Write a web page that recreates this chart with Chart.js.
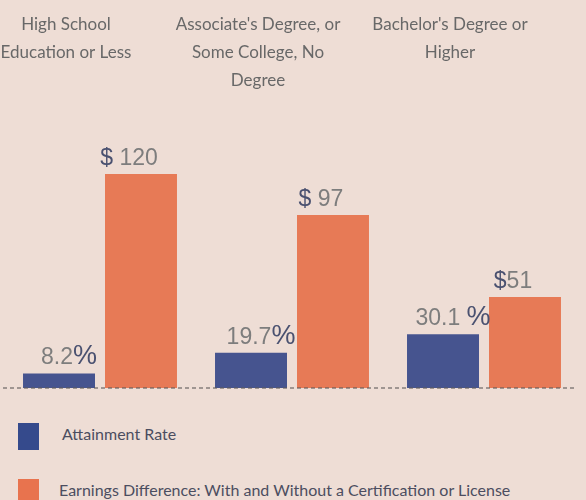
<!DOCTYPE html>
<html>
<head>
<meta charset="utf-8">
<script src="https://cdn.jsdelivr.net/npm/chart.js@4.4.0/dist/chart.umd.min.js"></script>
<style>
    html, body { margin: 0; padding: 0; background: #EEDDD5; }
    #wrap { position: relative; width: 586px; height: 500px; overflow: hidden; }
    #chartBox { position: absolute; left: 0; top: 0; width: 586px; height: 400px; }
    .legend-item { position: absolute; left: 18px; display: flex; align-items: center;
        font-family: Lato, sans-serif; font-size: 16px; color: #4b4d60; white-space: nowrap; }
    .legend-item span.txt { position: relative; top: -3px; }
    .swatch { width: 21px; height: 27px; }
</style>
</head>
<body>
<div id="wrap">
    <div id="chartBox"><canvas id="myChart"></canvas></div>
    <div class="legend-item" style="top:423px"><span class="swatch" style="background:#354A8C; margin-right:23px"></span><span class="txt">Attainment Rate</span></div>
    <div class="legend-item" style="top:479px"><span class="swatch" style="background:#E8734E; margin-right:20px"></span><span class="txt">Earnings Difference: With and Without a Certification or License</span></div>
</div>
<script>
// categories (top labels, wrapped)
const categories = [
    ["High School", "Education or Less"],
    ["Associate's Degree, or", "Some College, No", "Degree"],
    ["Bachelor's Degree or", "Higher"]
];
const attainmentRate = [8.2, 19.7, 30.1];
const earningsDiff = [120, 97, 51];
// value label text as printed in the picture
const attainmentText = ["8.2", "19.7", "30.1 "];
const earningsText = [" 120", " 97", "51"];

const GREY = "#7d7d7d";
const DARK = "#4a5170";

// numbers above the bars, two-tone like the original
const valueLabels = {
    id: "valueLabels",
    afterDatasetsDraw(chart) {
        const ctx = chart.ctx;
        ctx.save();
        ctx.textBaseline = "alphabetic";
        chart.data.datasets.forEach(function (ds, di) {
            chart.getDatasetMeta(di).data.forEach(function (bar, i) {
                var parts, shift;
                if (di === 0) {
                    parts = [[attainmentText[i], GREY, 23], ["%", DARK, 27]];
                    shift = 10;
                } else {
                    parts = [["$", DARK, 23], [earningsText[i], GREY, 23]];
                    shift = -12;
                }
                var total = 0;
                parts.forEach(function (p) {
                    ctx.font = p[2] + "px 'Liberation Sans', Arial, sans-serif";
                    p.push(ctx.measureText(p[0]).width);
                    total += p[3];
                });
                var x = bar.x + shift - total / 2;
                var y = bar.y - 9;
                parts.forEach(function (p) {
                    ctx.font = p[2] + "px 'Liberation Sans', Arial, sans-serif";
                    ctx.fillStyle = p[1];
                    ctx.textAlign = "left";
                    ctx.fillText(p[0], x, y);
                    x += p[3];
                });
            });
        });
        ctx.restore();
    }
};

// dotted baseline drawn over the bars
const baseline = {
    id: "baseline",
    afterDatasetsDraw(chart) {
        const ctx = chart.ctx;
        const y = chart.scales.y.getPixelForValue(0);
        ctx.save();
        ctx.strokeStyle = "rgba(95, 90, 90, 0.55)";
        ctx.lineWidth = 2;
        ctx.setLineDash([4, 3]);
        ctx.beginPath();
        ctx.moveTo(3, y);
        ctx.lineTo(577, y);
        ctx.stroke();
        ctx.restore();
    }
};

new Chart(document.getElementById("myChart"), {
    type: "bar",
    data: {
        labels: categories,
        datasets: [
            {
                label: "Attainment Rate",
                data: attainmentRate,
                backgroundColor: "#46548F"
            },
            {
                label: "Earnings Difference: With and Without a Certification or License",
                data: earningsDiff,
                backgroundColor: "#E77A56"
            }
        ]
    },
    options: {
        responsive: true,
        maintainAspectRatio: false,
        animation: false,
        layout: { padding: { left: 4, right: 6, top: 11, bottom: 12 } },
        datasets: {
            bar: { categoryPercentage: 0.854, barPercentage: 0.878 }
        },
        plugins: {
            legend: { display: false },
            tooltip: { enabled: false }
        },
        scales: {
            x: {
                position: "top",
                grid: { display: false },
                border: { display: false },
                ticks: {
                    color: "#686868",
                    font: { family: "Lato", size: 17, lineHeight: "28px" },
                    crossAlign: "far",
                    labelOffset: -34,
                    maxRotation: 0,
                    autoSkip: false,
                    padding: 0
                }
            },
            y: {
                display: false,
                min: 0,
                max: 159.8
            }
        }
    },
    plugins: [valueLabels, baseline]
});
</script>
</body>
</html>
